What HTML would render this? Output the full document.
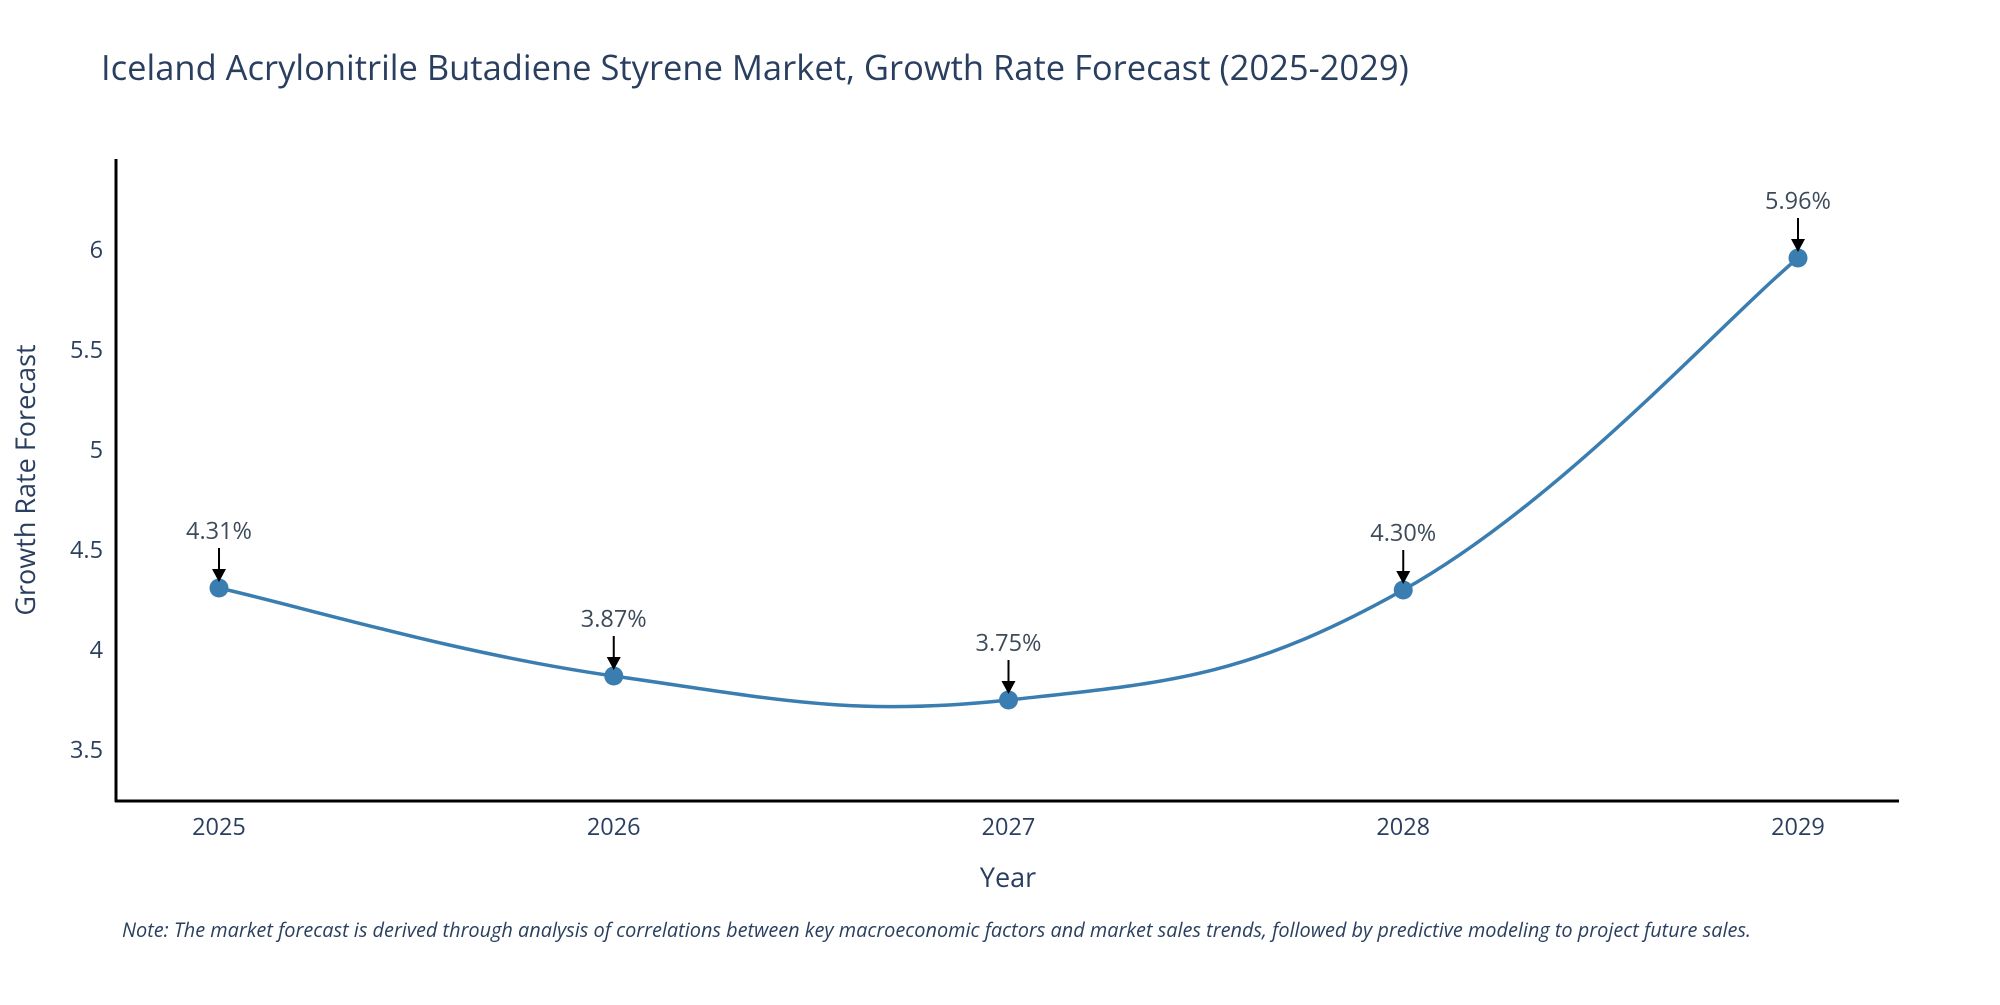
<!DOCTYPE html>
<html><head><meta charset="utf-8"><style>
body{margin:0;background:#fff;width:2000px;height:1000px;overflow:hidden}
svg{font-family:"Open Sans","Liberation Sans",sans-serif}
</style></head><body>
<svg id="chart" width="2000" height="1000">
<text x="101" y="80" font-size="34.5" fill="#2a3f5f">Iceland Acrylonitrile Butadiene Styrene Market, Growth Rate Forecast (2025-2029)</text>
<g id="yticks"></g>
<g id="xticks"></g>
<line x1="116" y1="159" x2="116" y2="802" stroke="#000" stroke-width="3"/>
<line x1="115" y1="801" x2="1899" y2="801" stroke="#000" stroke-width="3"/>
<text transform="translate(35,480) rotate(-90)" text-anchor="middle" font-size="27" fill="#2a3f5f">Growth Rate Forecast</text>
<text x="1008" y="887" text-anchor="middle" font-size="27" fill="#2a3f5f">Year</text>
<path id="line" fill="none" stroke="#3a7db0" stroke-width="3.5"/>
<g id="points"></g>
<text x="122" y="937" font-size="19.9" font-style="italic" fill="#2a3f5f">Note: The market forecast is derived through analysis of correlations between key macroeconomic factors and market sales trends, followed by predictive modeling to project future sales.</text>
</svg>
<script>
const years = [2025, 2026, 2027, 2028, 2029];
const values = [4.31, 3.87, 3.75, 4.30, 5.96];
const labels = ["4.31%", "3.87%", "3.75%", "4.30%", "5.96%"];
const yTicks = [3.5, 4, 4.5, 5, 5.5, 6];
const NS = "http://www.w3.org/2000/svg";
const xs = v => 219 + (v - 2025) * (1798 - 219) / 4;
const ys = v => 750 - (v - 3.5) * 200;
function mk(tag, attrs, parent, txt){const e=document.createElementNS(NS,tag);for(const k in attrs)e.setAttribute(k,attrs[k]);if(txt!==undefined)e.textContent=txt;parent.appendChild(e);return e;}
const yt=document.getElementById('yticks');
yTicks.forEach(t=>{const e=mk('text',{x:103,y:ys(t)+8,'text-anchor':'end','font-size':23.5,fill:'#2a3f5f'},yt,String(t));

});
const xt=document.getElementById('xticks');
years.forEach(y=>{const e=mk('text',{x:xs(y),y:835,'text-anchor':'middle','font-size':23.5,fill:'#2a3f5f'},xt,String(y));

});
const P=years.map((y,i)=>[xs(y),ys(values[i])]);
let d=`M${P[0][0]},${P[0][1]}`;const s=0.2;
for(let i=0;i<P.length-1;i++){const p0=P[Math.max(i-1,0)],p1=P[i],p2=P[i+1],p3=P[Math.min(i+2,P.length-1)];
const c1=[p1[0]+(p2[0]-p0[0])*s,p1[1]+(p2[1]-p0[1])*s],c2=[p2[0]-(p3[0]-p1[0])*s,p2[1]-(p3[1]-p1[1])*s];
d+=` C${c1[0]},${c1[1]} ${c2[0]},${c2[1]} ${p2[0]},${p2[1]}`;}
document.getElementById('line').setAttribute('d',d);
const pg=document.getElementById('points');
P.forEach((p,i)=>{const c=mk('circle',{cx:p[0],cy:p[1],r:9.5,fill:'#3a7db0'},pg);


const l=mk('line',{x1:p[0],y1:p[1]-40,x2:p[0],y2:p[1]-16,stroke:'#000','stroke-width':2},pg);


const h=mk('path',{d:`M${p[0]-7},${p[1]-19} L${p[0]+7},${p[1]-19} L${p[0]},${p[1]-6} Z`,fill:'#000'},pg);


const t=mk('text',{x:p[0],y:p[1]-49,'text-anchor':'middle','font-size':23.5,fill:'#3d4a5a'},pg,labels[i]);

});
</script>
</body></html>
